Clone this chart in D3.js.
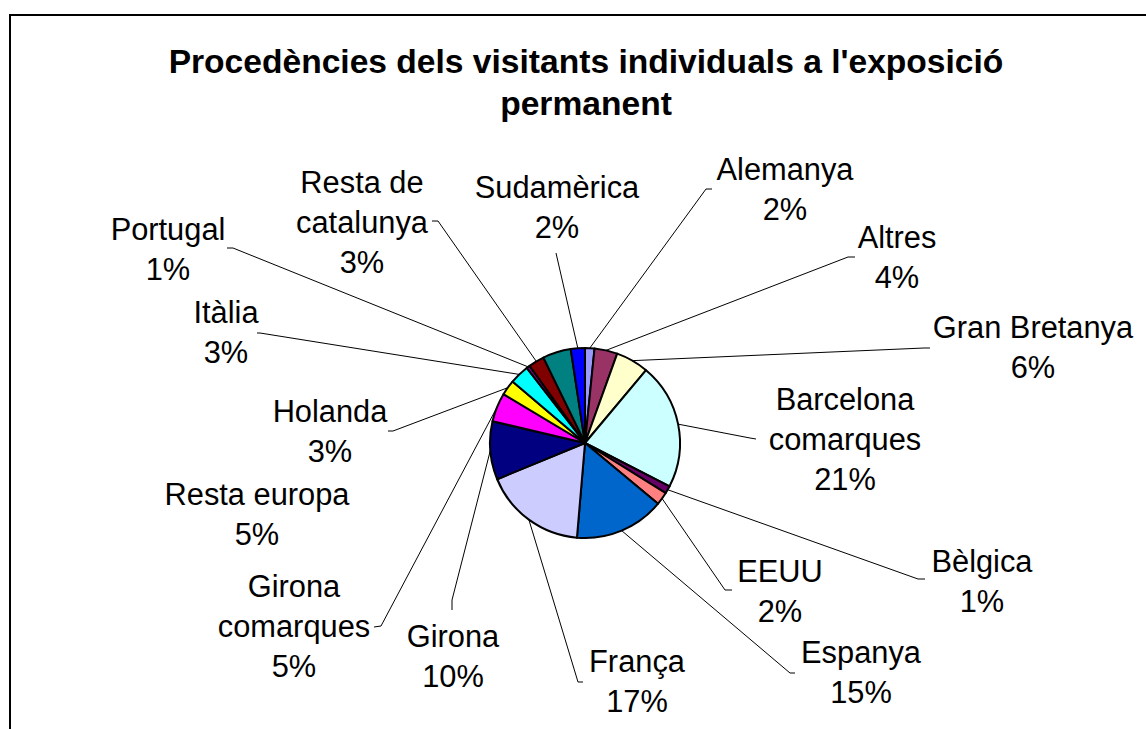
<!DOCTYPE html>
<html>
<head>
<meta charset="utf-8">
<script src="https://cdn.jsdelivr.net/npm/d3@7/dist/d3.min.js"></script>
<style>
  html, body { margin: 0; padding: 0; background: #fff; }
  svg { display: block; }
  text { font-family: "Liberation Sans", Arial, sans-serif; fill: #000; }
</style>
</head>
<body>
<svg id="chart" width="1146" height="729"></svg>
<script>
// ---- data ----
const titleLines = ["Procedències dels visitants individuals a l'exposició", "permanent"];
const categories = ["Alemanya", "Altres", "Gran Bretanya", "Barcelona comarques", "Bèlgica", "EEUU",
  "Espanya", "França", "Girona", "Girona comarques", "Holanda", "Itàlia", "Portugal",
  "Resta de catalunya", "Resta europa", "Sudamèrica"];
const values = [1.6, 3.9, 5.6, 21.4, 1.3, 2.2, 15.3, 17.4, 9.9, 4.9, 2.6, 3.3, 0.6, 2.7, 4.8, 2.4];
const colors = ["#9999FF", "#993366", "#FFFFCC", "#CCFFFF", "#660066", "#FF8080", "#0066CC", "#CCCCFF",
  "#000080", "#FF00FF", "#FFFF00", "#00FFFF", "#800080", "#800000", "#008080", "#0000FF"];

// ---- label layout (label centre x, first baseline, wrapped lines, leader elbow & end) ----
const labelLayout = [
  { lines: ["Alemanya"], x: 785, y: 180, elbow: [706, 189], end: [712, 189] },
  { lines: ["Altres"], x: 897, y: 248, elbow: [848, 257], end: [855, 257] },
  { lines: ["Gran Bretanya"], x: 1033, y: 338, elbow: [924, 348], end: [930, 348] },
  { lines: ["Barcelona", "comarques"], x: 845, y: 410, elbow: [750, 438], end: [756, 439] },
  { lines: ["Bèlgica"], x: 982, y: 572, elbow: [918, 579], end: [925, 579] },
  { lines: ["EEUU"], x: 780, y: 582, elbow: [725, 590], end: [732, 590] },
  { lines: ["Espanya"], x: 861, y: 663, elbow: [790, 673], end: [795, 673] },
  { lines: ["França"], x: 637, y: 672, elbow: [578, 682], end: [583, 682] },
  { lines: ["Girona"], x: 453, y: 647, elbow: [452, 600], end: [452, 610] },
  { lines: ["Girona", "comarques"], x: 294, y: 597, elbow: [381, 626], end: [374, 627] },
  { lines: ["Holanda"], x: 330, y: 422, elbow: [393, 431], end: [388, 431] },
  { lines: ["Itàlia"], x: 226, y: 323, elbow: [260, 333], end: [257, 333] },
  { lines: ["Portugal"], x: 168, y: 240, elbow: [233, 248], end: [227, 248] },
  { lines: ["Resta de", "catalunya"], x: 362, y: 193, elbow: [438, 221], end: [432, 221] },
  { lines: ["Resta europa"], x: 257, y: 505, elbow: null, end: null },
  { lines: ["Sudamèrica"], x: 557, y: 198, elbow: [556, 253], end: [556, 253] }
];

const data = categories.map((c, i) => ({ name: c, value: values[i], color: colors[i], layout: labelLayout[i] }));
const total = d3.sum(values);

const svg = d3.select("#chart");
const cx = 585, cy = 443, r = 95;
const lineH = 40;

// frame
svg.append("rect")
  .attr("x", 10).attr("y", 15)
  .attr("width", 1300).attr("height", 900)
  .attr("fill", "#fff").attr("stroke", "#000").attr("stroke-width", 2);

// title
svg.append("g").selectAll("text").data(titleLines).join("text")
  .attr("x", 586).attr("y", (d, i) => 73 + i * 42)
  .attr("text-anchor", "middle")
  .style("font-size", "33.6px").style("font-weight", "bold")
  .text(d => d);

// pie
const pie = d3.pie().value(d => d.value).sort(null);
const arcs = pie(data);
const arc = d3.arc().innerRadius(0).outerRadius(r);
const g = svg.append("g").attr("transform", `translate(${cx},${cy})`);

g.selectAll("path").data(arcs).join("path")
  .attr("d", arc)
  .attr("fill", d => d.data.color)
  .attr("stroke", "#000")
  .attr("stroke-width", 2)
  .attr("stroke-linejoin", "round");

// leader lines
svg.append("g").selectAll("polyline")
  .data(arcs.filter(d => d.data.layout.elbow))
  .join("polyline")
  .attr("fill", "none").attr("stroke", "#000").attr("stroke-width", 1)
  .attr("points", d => {
    const a = (d.startAngle + d.endAngle) / 2;
    const p = [cx + r * Math.sin(a), cy - r * Math.cos(a)];
    const L = d.data.layout;
    return [p, L.elbow, L.end].map(q => q.join(",")).join(" ");
  });

// labels
const lbl = svg.append("g").selectAll("text").data(arcs).join("text")
  .attr("text-anchor", "middle")
  .style("font-size", "30.8px");
lbl.each(function (d) {
  const L = d.data.layout;
  const pct = Math.round(d.data.value / total * 100) + "%";
  const lines = L.lines.concat([pct]);
  d3.select(this).selectAll("tspan").data(lines).join("tspan")
    .attr("x", L.x).attr("y", (t, i) => L.y + i * lineH)
    .text(t => t);
});
</script>
</body>
</html>
